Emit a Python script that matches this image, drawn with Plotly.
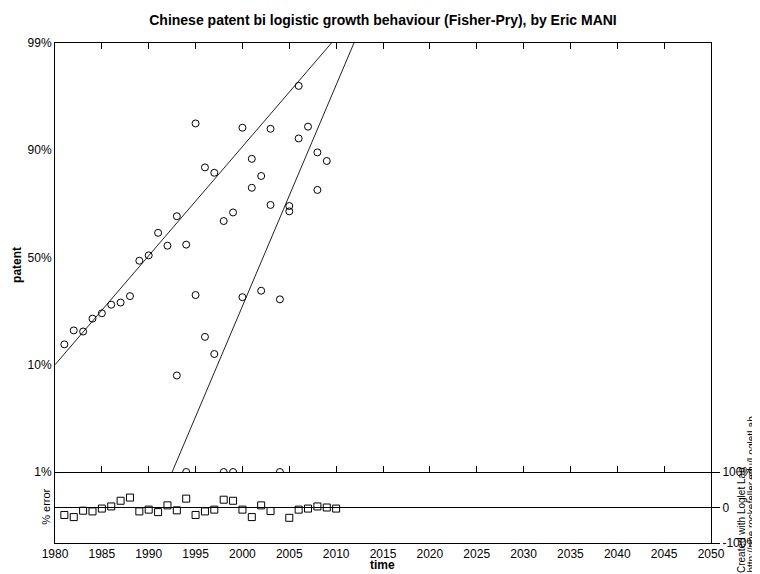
import plotly.graph_objects as go

# ---------------- data ----------------
title_text = "Chinese patent bi logistic growth behaviour (Fisher-Pry), by Eric MANI"

# Fisher-Pry values, log10(F/(1-F)); 0 = 50%, 1 = 90%, 2 = 99%
years_p1 = [1981, 1982, 1983, 1984, 1985, 1986, 1987, 1988, 1989, 1990,
            1991, 1992, 1993, 1994, 1995, 1996, 1997, 1998, 1999, 2000,
            2001, 2002, 2003, 2004, 2005, 2006, 2007, 2008, 2009]
vals_p1 = [-0.81, -0.68, -0.69, -0.57, -0.52, -0.44, -0.42, -0.36, -0.03, 0.02,
           0.23, 0.11, 0.385, 0.12, 1.25, 0.84, 0.79, 0.34, 0.42, 1.21,
           0.92, 0.76, 1.20, -0.39, 0.48, 1.60, 1.22, 0.98, 0.90]

years_p2 = [1993, 1994, 1995, 1996, 1997, 1998, 1999, 2000, 2001, 2002,
            2003, 2004, 2005, 2006, 2008]
vals_p2 = [-1.10, -2.0, -0.35, -0.74, -0.90, -2.0, -2.0, -0.37, 0.65, -0.31,
           0.49, -2.0, 0.43, 1.11, 0.63]

# fitted logistic components (straight lines in Fisher-Pry space), endpoints
fit1_years = [1980, 2009.5]
fit1_vals = [-1.0, 2.0]
fit2_years = [1992.5, 2011.9]
fit2_vals = [-2.0, 2.0]

# residuals (% error)
res_years = [1981, 1982, 1983, 1984, 1985, 1986, 1987, 1988, 1989, 1990,
             1991, 1992, 1993, 1994, 1995, 1996, 1997, 1998, 1999, 2000,
             2001, 2002, 2003, 2005, 2006, 2007, 2008, 2009, 2010]
res_vals = [-21, -27, -9, -11, -3, 3, 19, 28, -11, -6,
            -13, 6, -8, 25, -21, -11, -6, 22, 19, -6,
            -27, 6, -10, -29, -6, -3, 3, 0, -3]

y_tickvals = [-2, -1, 0, 1, 2]
y_ticktext = ["1%", "10%", "50%", "90%", "99%"]
x_tickvals = list(range(1980, 2051, 5))
res_tickvals = [-100, 0, 100]
res_ticktext = ["-100%", "0", "100%"]

# ---------------- figure ----------------
FONT = "Arial, Liberation Sans, sans-serif"
BLACK = "#000000"
# the page body adds an 8px margin, so the figure is 8px smaller than the window
W, H = 752, 566

fig = go.Figure()

fig.add_trace(go.Scatter(x=fit1_years, y=fit1_vals, mode="lines",
                         line=dict(color="#222222", width=1), xaxis="x", yaxis="y",
                         showlegend=False, hoverinfo="skip"))
fig.add_trace(go.Scatter(x=fit2_years, y=fit2_vals, mode="lines",
                         line=dict(color="#222222", width=1), xaxis="x", yaxis="y",
                         showlegend=False, hoverinfo="skip"))
fig.add_trace(go.Scatter(x=years_p1, y=vals_p1, mode="markers",
                         marker=dict(symbol="circle-open", size=7, color=BLACK,
                                     line=dict(width=1, color=BLACK)),
                         xaxis="x", yaxis="y", showlegend=False))
fig.add_trace(go.Scatter(x=years_p2, y=vals_p2, mode="markers",
                         marker=dict(symbol="circle-open", size=7, color=BLACK,
                                     line=dict(width=1, color=BLACK)),
                         xaxis="x", yaxis="y", showlegend=False))
fig.add_trace(go.Scatter(x=res_years, y=res_vals, mode="markers",
                         marker=dict(symbol="square-open", size=7, color=BLACK,
                                     line=dict(width=1, color=BLACK)),
                         xaxis="x2", yaxis="y2", showlegend=False))

res_dom = [0, 0.142]
main_dom = [0.142, 1]
tickfont = dict(family=FONT, size=12, color=BLACK)

fig.update_layout(
    width=W, height=H,
    margin=dict(l=47, r=49, t=35, b=31, autoexpand=False),
    paper_bgcolor="white", plot_bgcolor="white",
    title=dict(text="<b>" + title_text + "</b>", x=0.5, xref="paper",
               y=1 - 12 / H, yref="container", yanchor="middle", xanchor="center",
               font=dict(family=FONT, size=14, color=BLACK)),
    xaxis=dict(domain=[0, 1], anchor="y", range=[1980, 2050], tickvals=x_tickvals,
               showticklabels=False, ticks="inside", ticklen=6, tickcolor=BLACK,
               mirror="ticks", showline=True, linecolor=BLACK, linewidth=1,
               showgrid=False, zeroline=False, automargin=False),
    yaxis=dict(domain=main_dom, anchor="x", range=[-2, 2], tickvals=y_tickvals,
               ticktext=y_ticktext, ticks="", showline=True, mirror=True,
               linecolor=BLACK, linewidth=1, showgrid=False, zeroline=False,
               tickfont=tickfont, automargin=False),
    yaxis3=dict(overlaying="y", side="right", anchor="x", range=[-2, 2],
                tickvals=y_tickvals, showticklabels=False, ticks="inside",
                ticklen=5, tickcolor=BLACK, showline=False, showgrid=False,
                zeroline=False, automargin=False),
    xaxis2=dict(domain=[0, 1], anchor="y2", range=[1980, 2050], tickvals=x_tickvals,
                ticks="", showline=True, mirror=False, linecolor=BLACK, linewidth=1,
                showgrid=False, zeroline=False, tickfont=tickfont, automargin=False),
    xaxis3=dict(overlaying="x2", side="top", anchor="y2", range=[1980, 2050],
                tickvals=x_tickvals, showticklabels=False, ticks="inside",
                ticklen=6, tickcolor=BLACK, showline=False, showgrid=False,
                zeroline=False, automargin=False),
    yaxis2=dict(domain=res_dom, anchor="x2", side="right", range=[-100, 100],
                tickvals=res_tickvals, ticktext=res_ticktext, ticks="outside",
                ticklen=8, tickcolor=BLACK, showline=True, mirror=True,
                linecolor=BLACK, linewidth=1, showgrid=False, zeroline=True,
                zerolinecolor=BLACK, zerolinewidth=1, tickfont=tickfont,
                automargin=False),
    annotations=[
        dict(text="<b>patent</b>", xref="paper", yref="paper", x=-0.058, y=0.556,
             textangle=-90, showarrow=False, xanchor="center", yanchor="middle",
             font=dict(family=FONT, size=12, color=BLACK)),
        dict(text="% error", xref="paper", yref="paper", x=-0.014, y=0.072,
             textangle=-90, showarrow=False, xanchor="center", yanchor="middle",
             font=dict(family=FONT, size=11, color=BLACK)),
        dict(text="<b>time</b>", xref="paper", yref="paper", x=(382 - 55) / 656,
             y=(543 - 565) / 500, showarrow=False, xanchor="center", yanchor="middle",
             font=dict(family=FONT, size=12, color=BLACK)),
        dict(text="Created with Loglet Lab", xref="paper", yref="paper",
             x=(741 - 55) / 656, y=(543 - 575) / 500, textangle=-90, showarrow=False,
             xanchor="center", yanchor="bottom",
             font=dict(family=FONT, size=10, color=BLACK)),
        dict(text="http://phe.rockefeller.edu/LogletLab", xref="paper", yref="paper",
             x=(751 - 55) / 656, y=(543 - 575) / 500, textangle=-90, showarrow=False,
             xanchor="center", yanchor="bottom",
             font=dict(family=FONT, size=10, color=BLACK)),
    ],
)

fig.write_html("out.html")
